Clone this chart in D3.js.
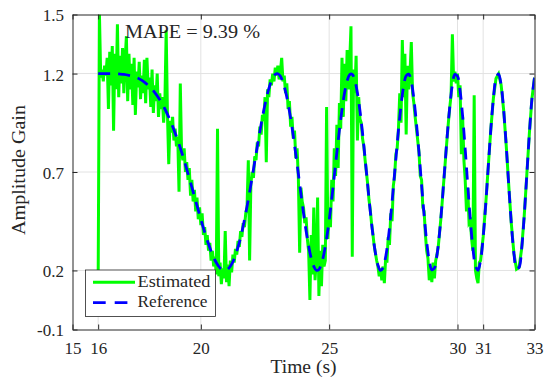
<!DOCTYPE html>
<html><head><meta charset="utf-8">
<script src="https://d3js.org/d3.v7.min.js"></script>
<style>body{margin:0;background:#fff}svg{display:block}svg text{font-family:"Liberation Serif","Times New Roman",serif !important}</style>
</head><body>
<svg id="chart" width="545" height="383"></svg>
<script>
// ---------- data ----------
const xTicks = [15, 16, 20, 25, 30, 31, 33];
const yTicks = [-0.1, 0.2, 0.7, 1.2, 1.5];
const yTickLabels = ["-0.1", "0.2", "0.7", "1.2", "1.5"];
const seriesNames = ["Estimated", "Reference"];
const mapeLabel = "MAPE = 9.39 %";
const xLabel = "Time (s)";
const yLabel = "Amplitude Gain";

// Reference: 16.0 .. 20.0 every 0.2 s
const refCoarse = [1.2, 1.2, 1.2, 1.2, 1.198, 1.196, 1.191, 1.184, 1.173, 1.157, 1.134,
  1.105, 1.067, 1.020, 0.964, 0.897, 0.822, 0.737, 0.647, 0.553, 0.460];
// Reference: 20.1 .. 33.0 every 0.1 s
const refFine = [
  0.416, 0.374, 0.334, 0.297, 0.265, 0.240, 0.220, 0.206, 0.200, 0.202,
  0.213, 0.232, 0.260, 0.297, 0.342, 0.396, 0.457, 0.525, 0.597, 0.674,
  0.752, 0.830, 0.906, 0.978, 1.043, 1.100, 1.145, 1.178, 1.196, 1.199,
  1.186, 1.155, 1.109, 1.047, 0.971, 0.885, 0.789, 0.690, 0.589, 0.492,
  0.402, 0.325, 0.262, 0.221, 0.201, 0.205, 0.234, 0.287, 0.362, 0.455,
  0.563, 0.680, 0.799, 0.914, 1.017, 1.102, 1.163, 1.195, 1.196, 1.165,
  1.102, 1.011, 0.897, 0.769, 0.634, 0.503, 0.385, 0.290, 0.227, 0.200,
  0.214, 0.268, 0.359, 0.479, 0.620, 0.769, 0.913, 1.038, 1.134, 1.189,
  1.197, 1.158, 1.072, 0.948, 0.798, 0.636, 0.480, 0.346, 0.250, 0.203,
  0.212, 0.277, 0.391, 0.542, 0.714, 0.885, 1.034, 1.143, 1.196, 1.186,
  1.113, 0.984, 0.817, 0.632, 0.456, 0.313, 0.223, 0.201, 0.252, 0.369,
  0.537, 0.730, 0.920, 1.076, 1.175, 1.198, 1.142, 1.012, 0.831, 0.626,
  0.433, 0.284, 0.207, 0.216, 0.311, 0.478, 0.685, 0.896, 1.072, 1.179];

// Estimated: 16.00 .. 31.00 every 0.05 s
const estFine = [
  0.15, 1.50, 1.18, 1.22, 1.16, 1.24, 1.19, 1.28, 1.02, 1.31,
  1.14, 1.34, 0.91, 1.30, 1.12, 1.45, 1.08, 1.29, 1.15, 1.33,
  1.10, 1.27, 1.39, 1.06, 1.30, 1.12, 1.25, 1.04, 1.28, 0.99,
  1.21, 1.13, 1.26, 1.07, 1.19, 1.10, 1.27, 1.05, 1.28, 1.12,
  1.18, 1.03, 1.22, 1.00, 1.14, 1.06, 1.20, 0.98, 1.10, 1.02,
  1.08, 0.95, 1.06, 1.42, 0.99, 0.74, 0.96, 0.90, 0.98, 0.86,
  0.92, 0.83, 0.88, 0.60, 1.15, 0.80, 0.76, 0.82, 0.70, 0.75,
  0.66, 0.72, 0.58, 0.66, 0.55, 0.61, 0.50, 0.57, 0.46, 0.52,
  0.43, 0.49, 0.38, 0.42, 0.33, 0.38, 0.30, 0.34, 0.25, 0.30,
  0.22, 0.27, 0.18, 0.92, 0.17, 0.24, 0.13, 0.21, 0.16, 0.40,
  0.14, 0.23, 0.12, 0.25, 0.19, 0.28, 0.24, 0.31, 0.28, 0.35,
  0.32, 0.40, 0.37, 0.44, 0.42, 0.49, 0.52, 0.76, 0.25, 0.64,
  0.70, 0.67, 0.78, 0.76, 0.85, 0.83, 0.93, 0.89, 0.99, 0.96,
  1.08, 0.75, 1.12, 1.08, 1.17, 1.14, 1.20, 1.16, 1.23, 1.19,
  1.24, 1.17, 1.21, 1.28, 1.16, 1.19, 1.10, 1.15, 1.02, 1.06,
  0.93, 0.98, 0.87, 0.91, 0.77, 0.82, 0.67, 0.29, 0.62, 0.55,
  0.52, 0.44, 0.47, 0.36, 0.30, 0.05, 0.38, 0.18, 0.52, 0.15,
  0.26, 0.57, 0.07, 0.30, 0.12, 0.33, 0.22, 0.25, 1.03, 0.36,
  0.52, 0.42, 0.66, 0.55, 0.82, 0.68, 0.94, 0.72, 1.05, 0.92,
  1.28, 0.98, 1.25, 1.06, 1.32, 1.12, 1.26, 1.44, 0.27, 1.22,
  1.10, 1.29, 0.86, 1.08, 0.97, 0.95, 0.87, 0.83, 0.76, 0.70,
  0.64, 0.56, 0.51, 0.44, 0.39, 0.33, 0.29, 0.25, 0.22, 0.17,
  0.21, 0.15, 0.22, 0.135, 0.26, 0.24, 0.37, 0.33, 0.49, 0.45,
  0.63, 0.68, 0.79, 0.82, 0.92, 1.10, 0.95, 1.37, 1.08, 1.30,
  0.89, 1.24, 1.12, 1.20, 1.36, 1.10, 1.05, 0.98, 0.92, 0.86,
  0.80, 0.68, 0.66, 0.52, 0.50, 0.38, 0.30, 0.26, 0.15, 0.22,
  0.14, 0.24, 0.16, 0.25, 0.28, 0.32, 0.39, 0.46, 0.54, 0.63,
  0.71, 0.80, 0.88, 0.96, 1.03, 1.09, 1.40, 1.16, 1.21, 1.15,
  1.20, 1.08, 1.14, 0.79, 0.98, 0.76, 0.66, 0.50, 0.62, 0.44,
  0.45, 0.36, 0.30, 1.09, 0.20, 0.16, 0.135, 0.24, 0.25, 0.31,
  0.37];
// Estimated: 31.1 .. 33.0 every 0.1 s
const estTail = [0.537, 0.730, 0.920, 1.076, 1.175, 1.198, 1.142, 1.012, 0.831, 0.626,
  0.433, 0.284, 0.207, 0.216, 0.311, 0.478, 0.685, 0.896, 1.072, 1.179];

// ---------- sample times ----------
const refTimes = d3.range(refCoarse.length).map(i => 16 + i * 0.2)
  .concat(d3.range(refFine.length).map(i => 20.1 + i * 0.1));
const refValues = refCoarse.concat(refFine);
const estTimes = d3.range(estFine.length).map(i => 16 + i * 0.05)
  .concat(d3.range(estTail.length).map(i => 31.1 + i * 0.1));
const estValues = estFine.concat(estTail);
const refData = refTimes.map((t, i) => [t, refValues[i]]);
const estData = estTimes.map((t, i) => [t, estValues[i]]);

// ---------- layout ----------
const svg = d3.select("#chart");
const L = 72.5, T = 14.5, W = 462, H = 315;
const x = d3.scaleLinear().domain([15, 33]).range([L, L + W]);
const y = d3.scaleLinear().domain([-0.1, 1.5]).range([T + H, T]);
const axisColor = "#262626";
const fontFam = "Liberation Serif, serif";

svg.append("rect").attr("x", 0).attr("y", 0).attr("width", 545).attr("height", 383).attr("fill", "#fff");

// grid
const grid = svg.append("g").attr("stroke", "#e2e2e2").attr("stroke-width", 1);
grid.selectAll("line.gx").data(xTicks.slice(1, -1)).join("line")
  .attr("x1", d => x(d)).attr("x2", d => x(d)).attr("y1", T).attr("y2", T + H);
grid.selectAll("line.gy").data(yTicks.slice(1, -1)).join("line")
  .attr("y1", d => y(d)).attr("y2", d => y(d)).attr("x1", L).attr("x2", L + W);

// clip
svg.append("defs").append("clipPath").attr("id", "clip")
  .append("rect").attr("x", L).attr("y", T).attr("width", W).attr("height", H);

const line = d3.line().x(d => x(d[0])).y(d => y(d[1]));
const smooth = d3.line().x(d => x(d[0])).y(d => y(d[1])).curve(d3.curveCatmullRom);

const plot = svg.append("g").attr("clip-path", "url(#clip)");
plot.append("path").datum(estData).attr("d", line)
  .attr("fill", "none").attr("stroke", "#00ff00").attr("stroke-width", 3);
plot.append("path").datum(refData).attr("d", smooth)
  .attr("fill", "none").attr("stroke", "#0000ff").attr("stroke-width", 2.8)
  .attr("stroke-dasharray", "12,8");

// axes
function styleAxis(g) {
  g.attr("font-family", fontFam);
  g.selectAll("path.domain").attr("stroke", axisColor).attr("stroke-width", 1).attr("fill", "none");
  g.selectAll(".tick line").attr("stroke", axisColor).attr("stroke-width", 1);
  g.selectAll(".tick text").attr("fill", axisColor).attr("font-size", 17);
}
svg.append("g").attr("transform", `translate(0,${T + H})`)
  .call(d3.axisBottom(x).tickValues(xTicks).tickFormat(d3.format("d")).tickSizeInner(-5).tickSizeOuter(0).tickPadding(12))
  .call(styleAxis);
svg.append("g").attr("transform", `translate(0,${T})`)
  .call(d3.axisTop(x).tickValues(xTicks).tickFormat("").tickSizeInner(-5).tickSizeOuter(0))
  .call(styleAxis);
const yAx = svg.append("g").attr("transform", `translate(${L},0)`)
  .call(d3.axisLeft(y).tickValues(yTicks).tickFormat((d, i) => yTickLabels[i]).tickSizeInner(-5).tickSizeOuter(0).tickPadding(8.5))
  .call(styleAxis);
yAx.selectAll(".tick text").attr("dy", "0.38em");
svg.append("g").attr("transform", `translate(${L + W},0)`)
  .call(d3.axisRight(y).tickValues(yTicks).tickFormat("").tickSizeInner(-5).tickSizeOuter(0))
  .call(styleAxis);

// axis labels
svg.append("text").attr("x", 303.5).attr("y", 373).attr("text-anchor", "middle")
  .attr("font-family", fontFam).attr("font-size", 18).attr("fill", axisColor)
  .attr("textLength", 66).attr("lengthAdjust", "spacingAndGlyphs").text(xLabel);
svg.append("text").attr("transform", "translate(25,170) rotate(-90)").attr("text-anchor", "middle")
  .attr("font-family", fontFam).attr("font-size", 18).attr("fill", axisColor)
  .attr("textLength", 130).attr("lengthAdjust", "spacingAndGlyphs").text(yLabel);

// MAPE annotation
svg.append("text").attr("x", 125).attr("y", 38)
  .attr("font-family", fontFam).attr("font-size", 18).attr("fill", axisColor)
  .attr("textLength", 135).attr("lengthAdjust", "spacingAndGlyphs").text(mapeLabel);

// legend
const lg = svg.append("g");
lg.append("rect").attr("x", 85.5).attr("y", 270).attr("width", 130).attr("height", 46.5)
  .attr("fill", "#fff").attr("stroke", axisColor).attr("stroke-width", 0.8);
const legendStyles = [
  {color: "#00ff00", dash: null, w: 3, ly: 282.3, ty: 286.7, len: 73},
  {color: "#0000ff", dash: "12.7,9", w: 2.8, ly: 302.7, ty: 307.3, len: 70}
];
seriesNames.forEach((name, i) => {
  const s = legendStyles[i];
  lg.append("line").attr("x1", 93).attr("x2", 135).attr("y1", s.ly).attr("y2", s.ly)
    .attr("stroke", s.color).attr("stroke-width", s.w).attr("stroke-dasharray", s.dash);
  lg.append("text").attr("x", 137.5).attr("y", s.ty)
    .attr("font-family", fontFam).attr("font-size", 17).attr("fill", axisColor)
    .attr("textLength", s.len).attr("lengthAdjust", "spacingAndGlyphs").text(name);
});
</script>
</body></html>
